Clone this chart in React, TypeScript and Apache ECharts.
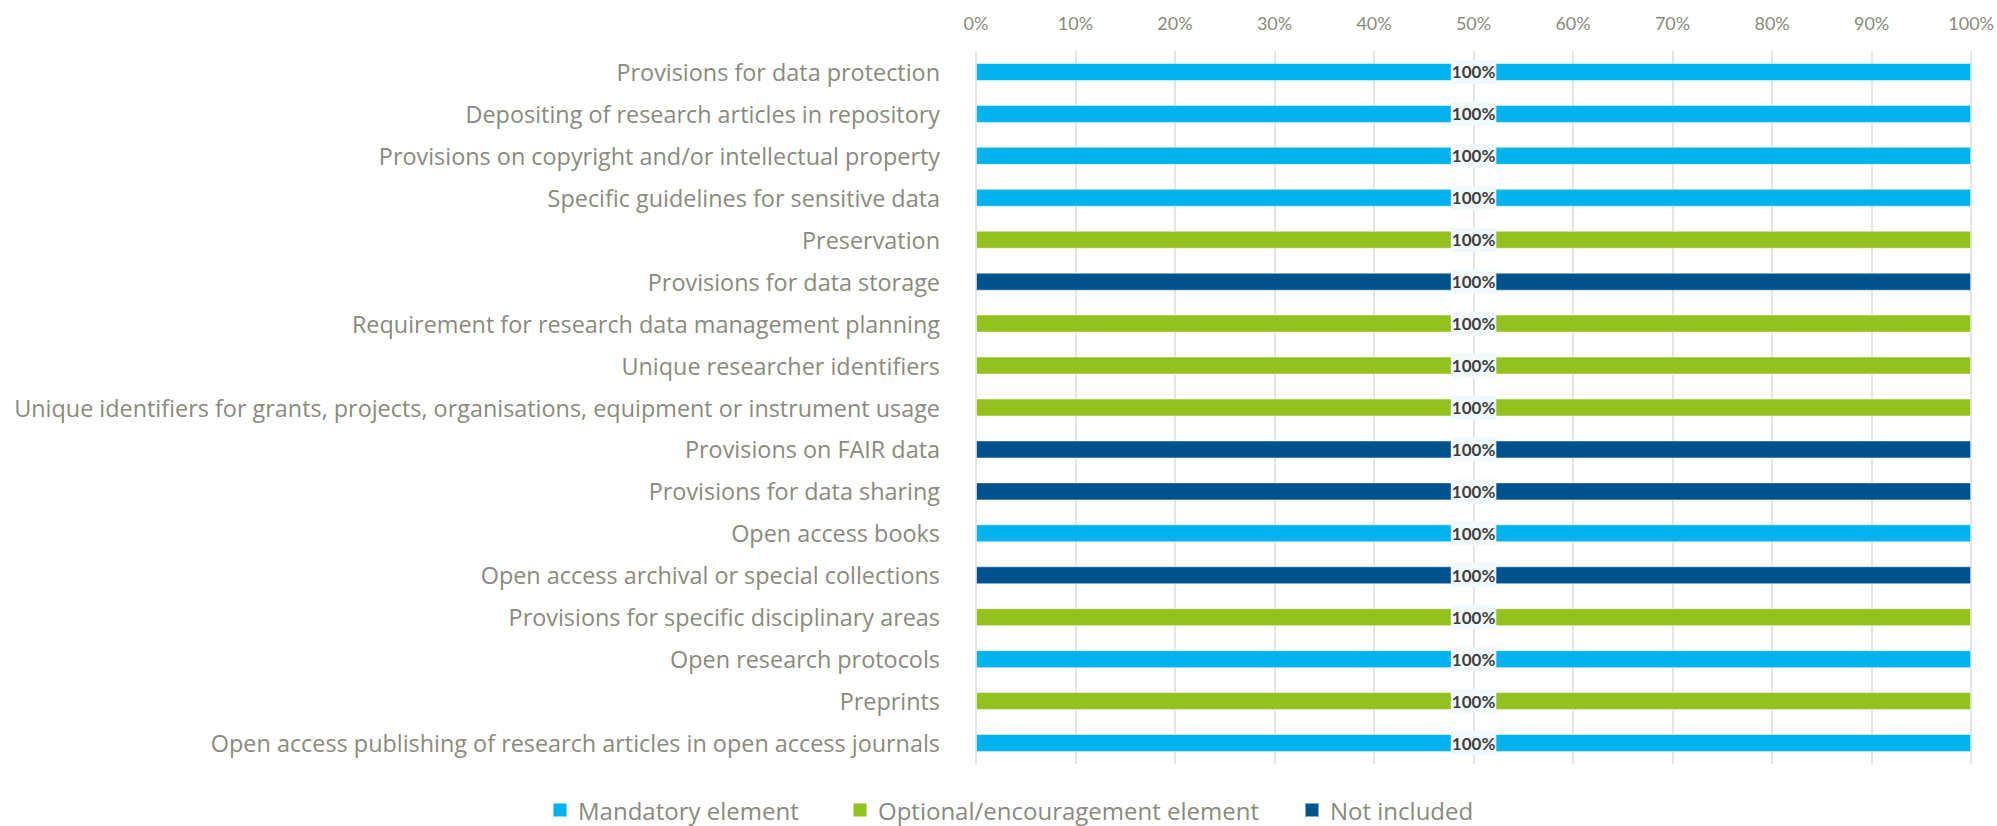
import React, { useEffect, useRef } from "react";
import * as echarts from "echarts";

const categories = [
  "Provisions for data protection",
  "Depositing of research articles in repository",
  "Provisions on copyright and/or intellectual property",
  "Specific guidelines for sensitive data",
  "Preservation",
  "Provisions for data storage",
  "Requirement for research data management planning",
  "Unique researcher identifiers",
  "Unique identifiers for grants, projects, organisations, equipment or instrument usage",
  "Provisions on FAIR data",
  "Provisions for data sharing",
  "Open access books",
  "Open access archival or special collections",
  "Provisions for specific disciplinary areas",
  "Open research protocols",
  "Preprints",
  "Open access publishing of research articles in open access journals",
];

const seriesNames = ["Mandatory element", "Optional/encouragement element", "Not included"];

const mandatory = [100, 100, 100, 100, null, null, null, null, null, null, null, 100, null, null, 100, null, 100];
const optional = [null, null, null, null, 100, null, 100, 100, 100, null, null, null, null, 100, null, 100, null];
const notIncluded = [null, null, null, null, null, 100, null, null, null, 100, 100, null, 100, null, null, null, null];

const xTicks = [0, 10, 20, 30, 40, 50, 60, 70, 80, 90, 100];

const colors = ["#00B2EE", "#95C11F", "#00528C"];
const gray = "#8A8A7E";
const FONT = "Lato";
const LABEL_FONT = "Open Sans";

export default function App() {
  const ref = useRef<HTMLDivElement>(null);
  useEffect(() => {
    if (!ref.current) return;
    const chart = echarts.init(ref.current, null, { renderer: "svg" });
    const seriesData = [mandatory, optional, notIncluded];
    const legendLeft = [552, 852, 1304];
    chart.setOption({
      animation: false,
      textStyle: { fontFamily: FONT },
      grid: { left: 976, right: 25, top: 51, bottom: 62, containLabel: false },
      xAxis: {
        type: "value",
        position: "top",
        min: xTicks[0],
        max: xTicks[xTicks.length - 1],
        interval: 10,
        axisLine: { show: false },
        axisTick: { show: false },
        axisLabel: {
          formatter: "{value}%",
          color: gray,
          fontSize: 18,
          fontFamily: FONT,
          margin: 19,
        },
        splitLine: { show: true, lineStyle: { color: "#DCDCDC", width: 1.5 } },
      },
      yAxis: {
        type: "category",
        inverse: true,
        data: categories,
        axisLine: { show: false },
        axisTick: { show: false },
        axisLabel: {
          color: gray,
          fontSize: 23.4,
          fontFamily: LABEL_FONT,
          margin: 36,
        },
      },
      legend: seriesNames.map((n, i) => ({
        data: [n],
        left: legendLeft[i],
        top: 798,
        padding: 0,
        icon: "rect",
        itemWidth: 14,
        itemHeight: 14,
        selectedMode: false,
        textStyle: {
          color: gray,
          fontSize: 24,
          fontFamily: LABEL_FONT,
          lineHeight: 24,
          padding: [0, 0, 0, 6],
        },
      })),
      series: seriesNames.map((n, i) => ({
        name: n,
        type: "bar",
        stack: "total",
        data: seriesData[i],
        barWidth: 18,
        itemStyle: { color: colors[i], borderColor: "rgba(255,255,255,0.5)", borderWidth: 1 },
        label: {
          show: true,
          position: "inside",
          formatter: "{c}%",
          color: "#404040",
          fontWeight: "bold",
          fontSize: 17,
          fontFamily: FONT,
          backgroundColor: "#F2F9FD",
          padding: [4, 1, 3, 1],
        },
      })),
    });
    return () => chart.dispose();
  }, []);
  return (
    <div
      ref={ref}
      style={{ position: "fixed", left: 0, top: 0, width: 1997, height: 826, background: "#fff" }}
    />
  );
}
